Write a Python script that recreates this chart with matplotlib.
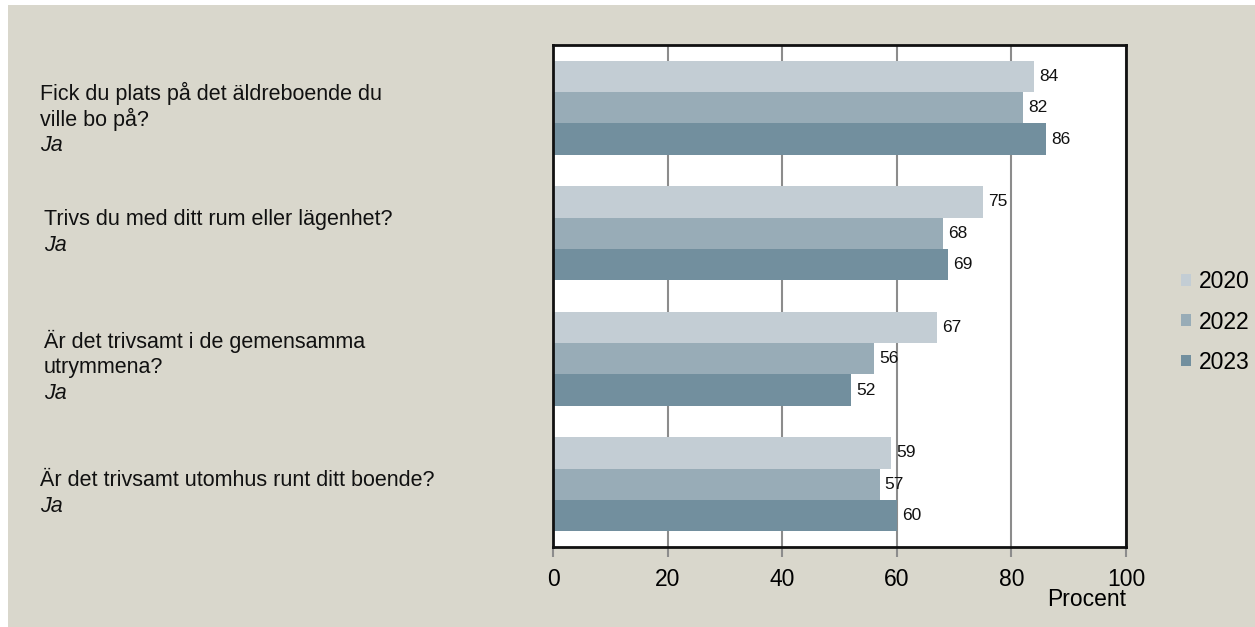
import matplotlib
matplotlib.use("Agg")
import numpy as np
from matplotlib import pyplot as plt
from matplotlib.patches import Rectangle

plt.rcParams["font.family"] = ["Liberation Sans", "DejaVu Sans"]

questions = [
    "Fick du plats på det äldreboende du\nville bo på?",
    "Trivs du med ditt rum eller lägenhet?",
    "Är det trivsamt i de gemensamma\nutrymmena?",
    "Är det trivsamt utomhus runt ditt boende?",
]
answer = "Ja"
years = ["2020", "2022", "2023"]
values_2020 = [84, 75, 67, 59]
values_2022 = [82, 68, 56, 57]
values_2023 = [86, 69, 52, 60]
x_ticks = [0, 20, 40, 60, 80, 100]

BG = "#D9D7CC"
COLORS = ["#C3CDD4", "#98ACB7", "#728F9E"]
LINE_PX = 26


def draw_labels(fig, ax) -> None:
    indents = [40, 44, 44, 40]
    shifts = [-12, 1, -9, -9]
    for i, (question, indent, shift) in enumerate(zip(questions, indents, shifts)):
        lines = question.split("\n") + [answer]
        n = len(lines)
        for k, line in enumerate(lines):
            offset = (n - 1) / 2 * LINE_PX - k * LINE_PX + shift
            ax.annotate(
                line,
                xy=(indent / 1255, i),
                xycoords=("figure fraction", "data"),
                xytext=(0, offset),
                textcoords="offset pixels",
                ha="left",
                va="center",
                fontsize=15.5,
                style="italic" if k == n - 1 else "normal",
                color="#111111",
                annotation_clip=False,
            )


def main() -> None:
    fig = plt.figure(figsize=(12.55, 6.27), dpi=100)
    fig.patch.set_facecolor("white")
    fig.add_artist(
        Rectangle((8 / 1255, 0), 1, 1 - 5 / 627, transform=fig.transFigure,
                  facecolor=BG, edgecolor="none", zorder=-10)
    )

    ax = fig.add_axes([553 / 1255, 80 / 627, 573 / 1255, 502 / 627])
    ax.set_facecolor("white")

    series = [values_2020, values_2022, values_2023]
    y = np.arange(len(questions))
    height = 0.25
    for j, (year, vals) in enumerate(zip(years, series)):
        pos = y + (j - 1) * height
        bars = ax.barh(pos, vals, height=height, color=COLORS[j], label=year, zorder=3)
        for bar, v in zip(bars, vals):
            ax.annotate(
                f"{v}",
                xy=(v, bar.get_y() + bar.get_height() / 2),
                xytext=(5, 0),
                textcoords="offset pixels",
                ha="left",
                va="center",
                fontsize=12.5,
                color="#111111",
                zorder=4,
            )

    ax.set_xlim(0, 100)
    ax.set_ylim(len(questions) - 0.5, -0.5)
    ax.set_xticks(x_ticks)
    ax.set_xticklabels([str(t) for t in x_ticks], fontsize=16.5)
    ax.set_yticks([])
    ax.grid(axis="x", color="#8C8C8C", linewidth=1.5, zorder=1)
    ax.tick_params(axis="x", length=7, width=1.5, color="#8C8C8C", pad=8)
    for spine in ax.spines.values():
        spine.set_color("#111111")
        spine.set_linewidth(2)
        spine.set_zorder(5)

    ax.set_xlabel("Procent", loc="right", fontsize=16.5, labelpad=-2)

    draw_labels(fig, ax)

    fig.legend(
        loc="center left",
        bbox_to_anchor=(1181 / 1255, 1 - 322 / 627),
        frameon=False,
        borderaxespad=0,
        borderpad=0,
        fontsize=16.5,
        handlelength=0.42,
        handleheight=0.42,
        handletextpad=0.35,
        labelspacing=0.75,
    )

    fig.savefig("out.png", dpi=100, facecolor=fig.get_facecolor())


if __name__ == "__main__":
    main()
